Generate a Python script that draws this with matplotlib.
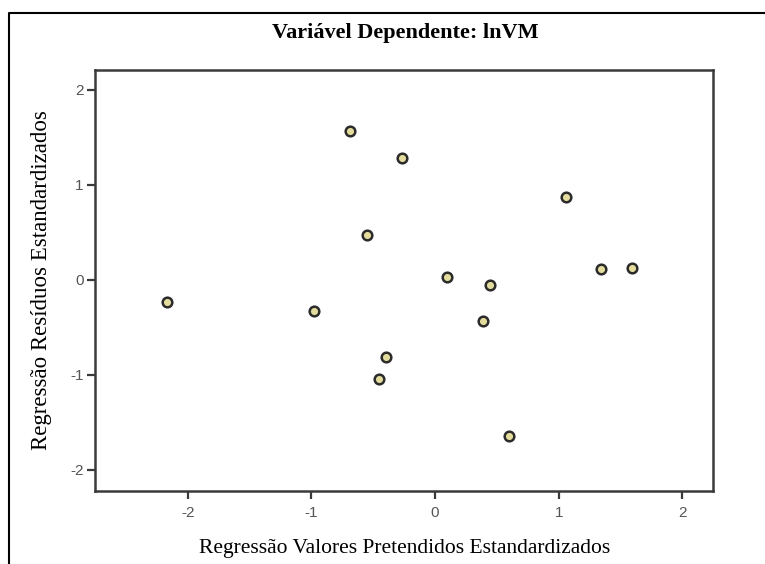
import matplotlib
matplotlib.use("Agg")
import matplotlib.pyplot as plt
from matplotlib.lines import Line2D

# Data
pred_std = [-2.165, -0.976, -0.685, -0.269, -0.548, 0.095, 0.445, 0.386,
            -0.399, -0.453, 0.598, 1.057, 1.340, 1.596]
resid_std = [-0.228, -0.323, 1.568, 1.287, 0.474, 0.028, -0.053, -0.432,
             -0.814, -1.045, -1.642, 0.871, 0.116, 0.123]
x_ticks = [-2, -1, 0, 1, 2]
y_ticks = [-2, -1, 0, 1, 2]
title = "Variável Dependente: lnVM"
xlabel = "Regressão Valores Pretendidos Estandardizados"
ylabel = "Regressão Resíduos Estandardizados"

W, H = 765, 564
fig = plt.figure(figsize=(W / 100, H / 100), dpi=100)
fig.patch.set_facecolor("white")

# figure frame (left and top visible)
fx = 8.5 / W
fy = 1 - 12.5 / H
fig.add_artist(Line2D([fx, fx, 1.0], [0.0, fy, fy], transform=fig.transFigure,
                      color="black", linewidth=1.5))

left, right = 94.5 / W, 713 / W
bottom, top = 1 - 490.7 / H, 1 - 70 / H
ax = fig.add_axes([left, bottom, right - left, top - bottom])

ax.scatter(pred_std, resid_std, s=48, facecolor="#e3dc9c", edgecolor="#2b2b2b",
           linewidths=1.8, zorder=3)

ax.set_xlim(-2.754, 2.248)
ax.set_ylim(-2.22, 2.21)
ax.set_xticks(x_ticks)
ax.set_yticks(y_ticks)
ax.set_xticklabels([str(t) for t in x_ticks])
ax.set_yticklabels([str(t) for t in y_ticks])

for sp in ax.spines.values():
    sp.set_color("#3a3a3a")
    sp.set_linewidth(1.8)

ax.tick_params(axis="both", direction="out", length=6, width=1.6, color="#3a3a3a",
               labelsize=11, labelcolor="#555555")
ax.tick_params(axis="x", pad=5)
ax.tick_params(axis="y", pad=2)
for lab in ax.get_xticklabels() + ax.get_yticklabels():
    lab.set_fontfamily(["Liberation Sans", "DejaVu Sans"])

fig.text(405 / W, 1 - 33 / H, title, ha="center", va="center",
         fontfamily=["Liberation Serif", "DejaVu Serif"], fontweight="bold", fontsize=16)
fig.text(405 / W, 1 - 549 / H, xlabel, ha="center", va="center",
         fontfamily=["Liberation Serif", "DejaVu Serif"], fontsize=15.5)
fig.text(42 / W, 1 - 280 / H, ylabel, ha="center", va="center", rotation=90,
         fontfamily=["Liberation Serif", "DejaVu Serif"], fontsize=16.5)

fig.savefig("out.png", dpi=100)
